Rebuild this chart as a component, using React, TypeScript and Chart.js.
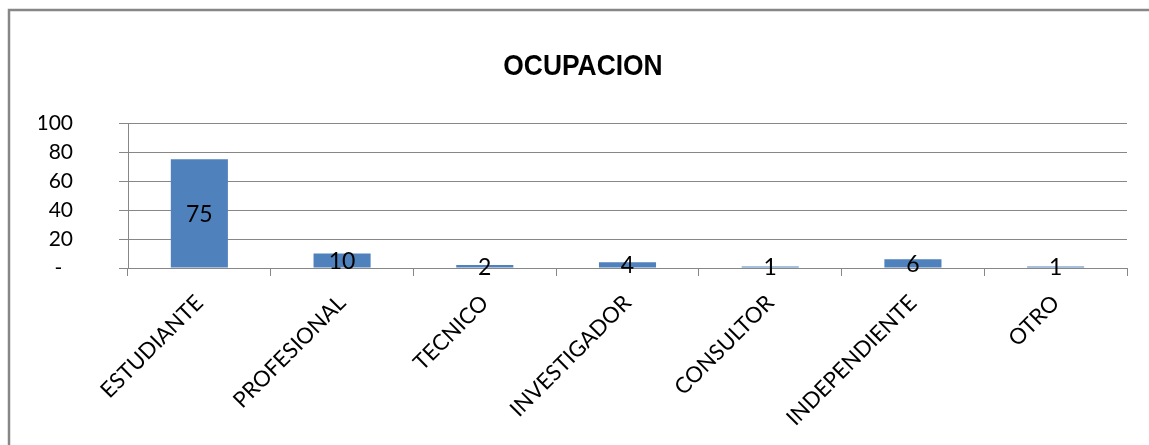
import React, { useEffect, useRef } from "react";
import { Chart, registerables } from "chart.js";

Chart.register(...registerables);

const categories = ["ESTUDIANTE", "PROFESIONAL", "TECNICO", "INVESTIGADOR", "CONSULTOR", "INDEPENDIENTE", "OTRO"];
const values = [75, 10, 2, 4, 1, 6, 1];
const yTicks = [0, 20, 40, 60, 80, 100];
const title = "OCUPACION";

const LABEL_FONT = "Lato, 'Open Sans', sans-serif";
const TITLE_FONT = "bold 30px 'Liberation Sans', Arial, sans-serif";

const framePlugin = {
  id: "frame",
  beforeDraw(chart: any) {
    const ctx = chart.ctx;
    ctx.save();
    ctx.fillStyle = "#ffffff";
    ctx.fillRect(0, 0, chart.width, chart.height);
    ctx.strokeStyle = "#878787";
    ctx.lineWidth = 2.5;
    ctx.strokeRect(9, 10, chart.width + 40, chart.height + 40);
    ctx.restore();
  },
  afterDraw(chart: any) {
    // condensed title drawn over the (transparent) title box
    const box = chart.titleBlock;
    if (!box) return;
    const ctx = chart.ctx;
    const cx = (box.left + box.right) / 2;
    const cy = box.top + box.options.padding.top + box.height / 2 - (box.options.padding.top + box.options.padding.bottom) / 2;
    ctx.save();
    ctx.font = TITLE_FONT;
    ctx.fillStyle = "#000000";
    ctx.textAlign = "center";
    ctx.textBaseline = "middle";
    ctx.translate(cx, cy + 2);
    ctx.scale(0.88, 1);
    ctx.fillText(title, 0, 0);
    ctx.restore();
  },
};

const dataLabelPlugin = {
  id: "dataLabels",
  afterDatasetsDraw(chart: any) {
    const ctx = chart.ctx;
    const meta = chart.getDatasetMeta(0);
    ctx.save();
    ctx.font = `23px ${LABEL_FONT}`;
    ctx.fillStyle = "#000000";
    ctx.textAlign = "center";
    ctx.textBaseline = "middle";
    meta.data.forEach((bar: any, i: number) => {
      const y = (bar.y + bar.base) / 2;
      ctx.fillText(String(values[i]), bar.x, y + 1);
    });
    ctx.restore();
  },
};

export default function App() {
  const ref = useRef<HTMLCanvasElement | null>(null);
  useEffect(() => {
    if (!ref.current) return;
    const chart = new Chart(ref.current, {
      type: "bar",
      data: {
        labels: categories,
        datasets: [
          {
            data: values,
            backgroundColor: "#4F81BD",
            borderWidth: 0,
            barPercentage: 0.4,
            categoryPercentage: 1,
          },
        ],
      },
      options: {
        responsive: false,
        animation: false,
        layout: { padding: { left: 39, right: 22, top: 0, bottom: 0 } },
        plugins: {
          legend: { display: false },
          tooltip: { enabled: false },
          title: {
            display: true,
            text: title,
            color: "rgba(0,0,0,0)",
            font: { family: "'Liberation Sans', Arial, sans-serif", size: 30, weight: "bold" },
            padding: { top: 47, bottom: 40 },
          },
        },
        scales: {
          x: {
            grid: {
              display: true,
              drawOnChartArea: false,
              drawTicks: true,
              tickLength: 8,
              color: "#878787",
              offset: true,
            },
            border: { display: true, color: "#878787", width: 1 },
            ticks: {
              minRotation: 45,
              maxRotation: 45,
              autoSkip: false,
              color: "#000000",
              padding: 14,
              font: { family: LABEL_FONT, size: 22 },
            },
            afterFit(scale: any) {
              scale.height = 177;
            },
          },
          y: {
            min: 0,
            max: 100,
            afterBuildTicks(scale: any) {
              scale.ticks = yTicks.map((v) => ({ value: v }));
            },
            grid: {
              color: "#878787",
              lineWidth: 1,
              drawTicks: true,
              tickLength: 9,
            },
            border: { display: true, color: "#878787", width: 1 },
            ticks: {
              autoSkip: false,
              color: "#000000",
              padding: 46,
              font: { family: LABEL_FONT, size: 21 },
              callback: (v: any) => (Number(v) === 0 ? "-  " : String(v)),
            },
            afterFit(scale: any) {
              scale.width = 89;
            },
          },
        },
      },
      plugins: [framePlugin, dataLabelPlugin],
    });
    return () => chart.destroy();
  }, []);
  return (
    <div style={{ position: "fixed", left: 0, top: 0, width: 1149, height: 445, background: "#fff" }}>
      <canvas ref={ref} width={1149} height={445} style={{ display: "block" }} />
    </div>
  );
}
